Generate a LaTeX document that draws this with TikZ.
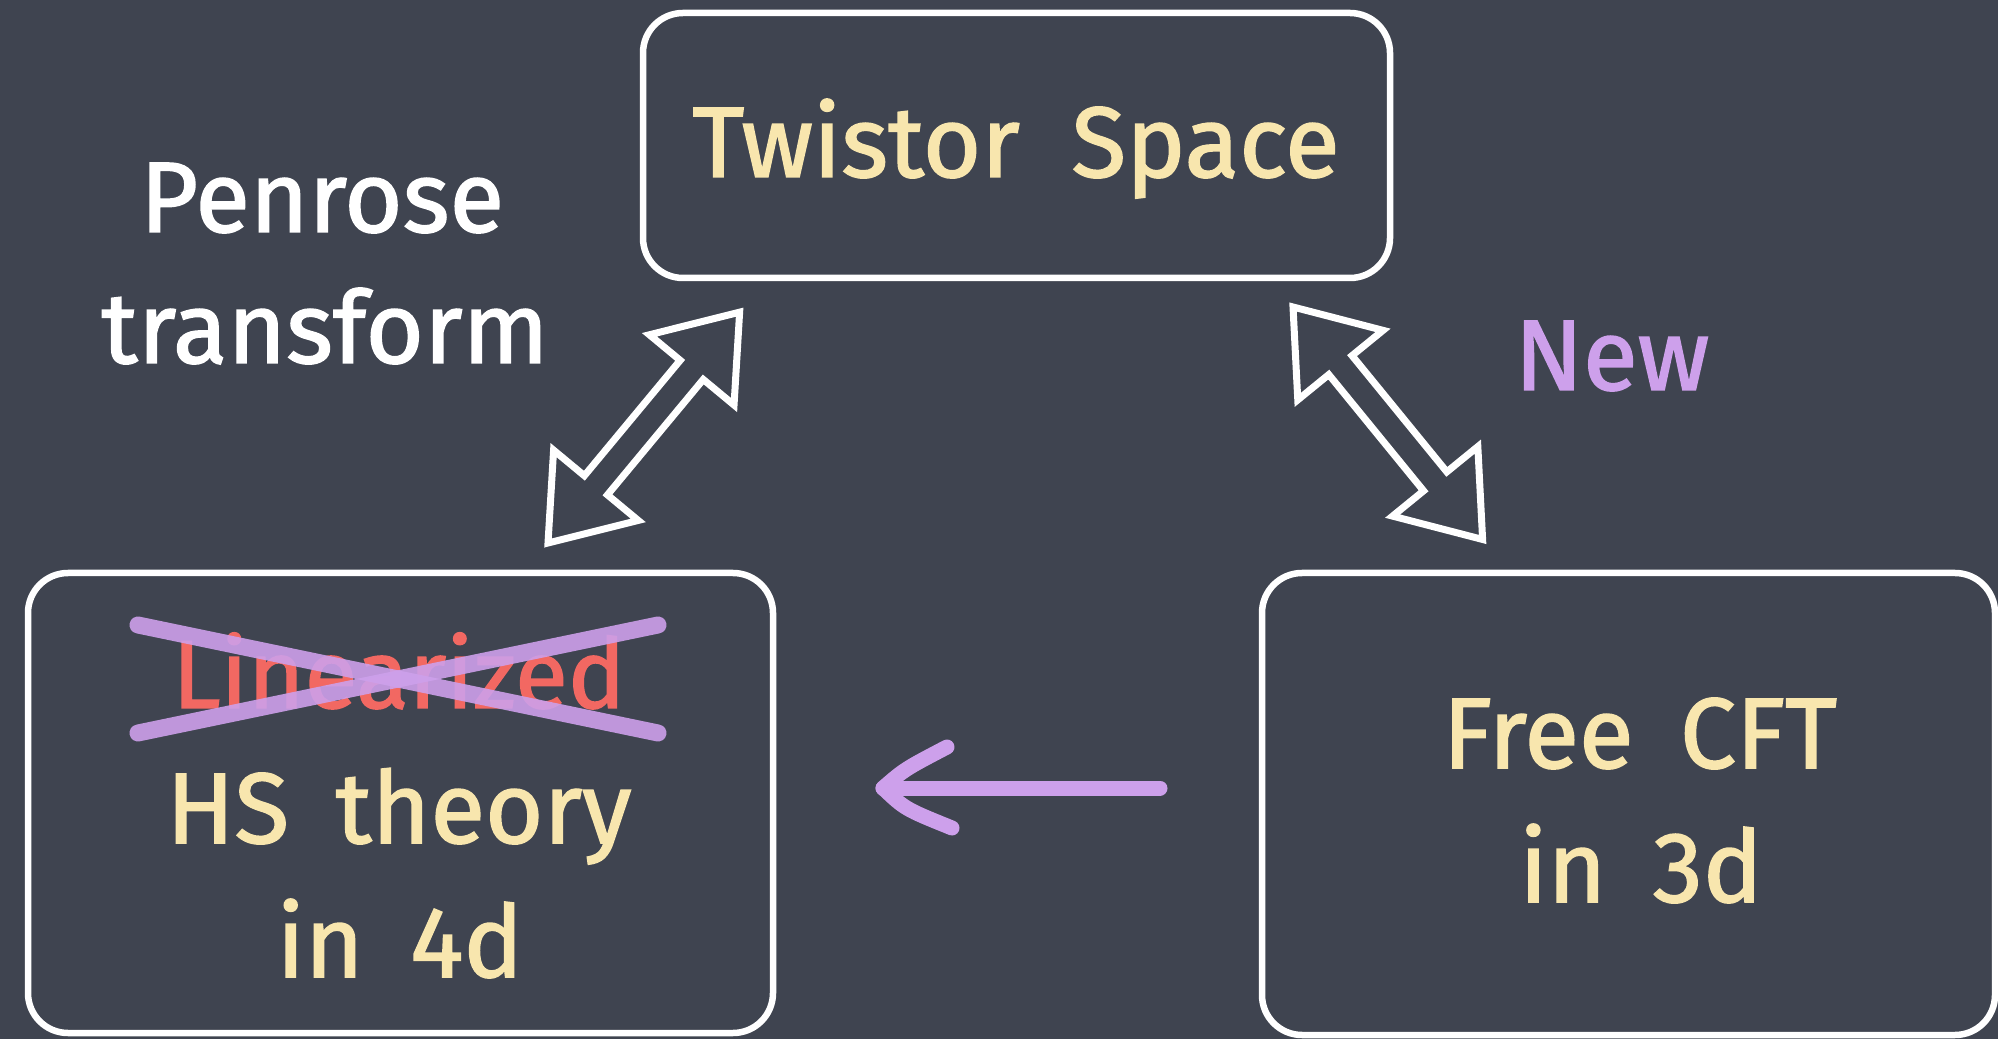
\documentclass[tikz,border=0pt]{standalone}
\usepackage{fontspec}
\setmainfont{Fira Sans}[FakeBold=1.5]
\definecolor{board}{RGB}{63,68,80}
\definecolor{chalkyellow}{RGB}{248,230,174}
\definecolor{chalkpurple}{RGB}{205,160,235}
\definecolor{chalkred}{RGB}{242,104,98}
\tikzset{
  chalkbox/.style={draw=white, line width=0.065cm, rounded corners=0.4cm, inner sep=0pt},
  lbl/.style={anchor=base, inner sep=0pt, font=\fontsize{28.5}{34}\selectfont},
  ylbl/.style={lbl, text=chalkyellow},
  wlbl/.style={lbl, text=white},
  hollowarrow/.style={draw=white, line width=0.07cm, line join=miter},
  purplechalk/.style={draw=chalkpurple, line cap=round, line join=round}
}
\begin{document}
\begin{tikzpicture}
\useasboundingbox (0,0) rectangle (19.98,10.39);
\fill[board] (0,0) rectangle (19.98,10.39);

% boxes
\node[chalkbox, minimum width=7.47cm, minimum height=2.65cm] (twistor) at (10.165,8.935) {};
\node[chalkbox, minimum width=7.45cm, minimum height=4.60cm] (hs) at (4.005,2.36) {};
\node[chalkbox, minimum width=7.33cm, minimum height=4.62cm] (cft) at (16.285,2.35) {};

% texts
\node[ylbl] (ttw) at (10.16,8.62) {Twistor\hspace{0.25em} Space};
\node[wlbl] (tpen1) at (3.22,8.07) {Penrose};
\node[wlbl] (tpen2) at (3.25,6.76) {transform};
\node[lbl, text=chalkpurple] (tnew) at (16.12,6.49) {New};
\node[lbl, text=chalkred, font=\fontsize{27.5}{33}\selectfont] (tlin) at (3.99,3.31) {Linearized};
\node[ylbl] (ths1) at (3.99,1.96) {HS\hspace{0.2em} theory};
\node[ylbl] (ths2) at (4.00,0.62) {in\hspace{0.2em} 4d};
\node[ylbl] (tcft1) at (16.40,2.71) {Free\hspace{0.2em} CFT};
\node[ylbl] (tcft2) at (16.41,1.37) {in\hspace{0.2em} 3d};

% cross over "Linearized"
\coordinate (x1) at (1.38,4.14);
\coordinate (x2) at (6.58,3.06);
\coordinate (x3) at (1.38,3.06);
\coordinate (x4) at (6.58,4.14);
\draw[purplechalk, line width=0.17cm, opacity=0.9] (x1) -- (x2);
\draw[purplechalk, line width=0.17cm, opacity=0.9] (x3) -- (x4);

% hollow double arrows
\coordinate (a1s) at (5.48,4.96);
\coordinate (a2s) at (12.93,7.32);
\begin{scope}[shift={(a1s)}, rotate=50.3]
  \draw[hollowarrow] (0,0) -- (0.75,0.55) -- (0.75,0.15) -- (2.25,0.15) -- (2.25,0.55) -- (3.0,0)
    -- (2.25,-0.55) -- (2.25,-0.15) -- (0.75,-0.15) -- (0.75,-0.55) -- cycle;
\end{scope}
\begin{scope}[shift={(a2s)}, rotate=-50.8]
  \draw[hollowarrow] (0,0) -- (0.75,0.55) -- (0.75,0.15) -- (2.25,0.15) -- (2.25,0.55) -- (3.0,0)
    -- (2.25,-0.55) -- (2.25,-0.15) -- (0.75,-0.15) -- (0.75,-0.55) -- cycle;
\end{scope}

% purple arrow from CFT to HS
\coordinate (patail) at (11.60,2.51);
\coordinate (patip) at (8.83,2.51);
\coordinate (paarm1) at (9.47,2.92);
\coordinate (paarm2) at (9.52,2.11);
\draw[purplechalk, line width=0.15cm] (patail) -- (patip);
\draw[purplechalk, line width=0.15cm] (paarm1) .. controls (9.05,2.70) .. (patip) .. controls (9.05,2.30) .. (paarm2);
\end{tikzpicture}
\end{document}
